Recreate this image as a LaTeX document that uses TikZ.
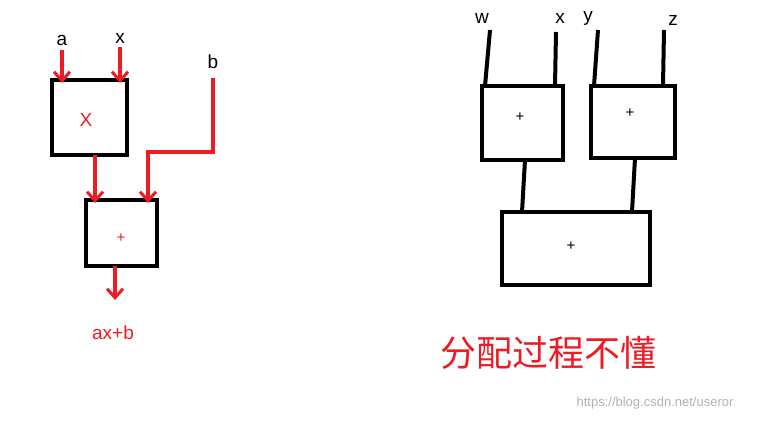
\documentclass[tikz,border=0pt]{standalone}
\usepackage{fontspec}
\setmainfont{Liberation Sans}
\newfontfamily\cjk{Noto Sans CJK SC}
\usetikzlibrary{arrows.meta}
\definecolor{rd}{RGB}{237,28,36}
\begin{document}
\begin{tikzpicture}[x=1pt,y=-1pt,
  blk/.style={draw=black,line width=3.5pt},
  rl/.style={draw=rd,line width=4pt},
  ra/.style={rl,-{Straight Barb[length=9pt,width=16pt,line width=3pt]}},
  bl/.style={draw=black,line width=4pt},
  lab/.style={font=\fontsize{19}{19}\selectfont},
  pl/.style={font=\fontsize{15}{15}\selectfont}]
\useasboundingbox (0,0) rectangle (763,422);
% left
\draw[blk] (52,80) rectangle (127,155);
\node[text=rd,lab] (X) at (86,120) {X};
\draw[blk] (86,200) rectangle (157,266);
\node[text=rd,pl] (p1) at (121,238) {+};
\node[lab] (a) at (62,40) {a};
\node[lab] (xx) at (120,38) {x};
\node[lab] (b) at (213,62) {b};
\coordinate (a1) at (62,50); \coordinate (a2) at (62,83);
\coordinate (x1) at (120,47); \coordinate (x2) at (120,83);
\draw[ra] (a1) -- (a2);
\draw[ra] (x1) -- (x2);
\coordinate (b1) at (213,78); \coordinate (b2) at (213,152); \coordinate (b3) at (148,152); \coordinate (b4) at (148,203);
\draw[ra] (b1) -- (b2) -- (b3) -- (b4);
\coordinate (m1) at (95,155); \coordinate (m2) at (95,203);
\draw[ra] (m1) -- (m2);
\coordinate (o1) at (115,266); \coordinate (o2) at (115,300);
\draw[ra] (o1) -- (o2);
\node[text=rd,lab] (res) at (113,333) {ax+b};
% right
\node[lab] (w) at (482,18) {w};
\node[lab] (x3) at (560,18) {x};
\node[lab] (y) at (588,18) {y};
\node[lab] (z) at (673,20) {z};
\draw[blk] (482,86) rectangle (563,160);
\draw[blk] (591,86) rectangle (675,158);
\draw[blk] (502,212) rectangle (650,285);
\node[pl] (q1) at (520,117) {+};
\node[pl] (q2) at (630,113) {+};
\node[pl] (q3) at (571,246) {+};
\coordinate (w1) at (490,30); \coordinate (w2) at (485,86);
\coordinate (x4) at (556,32); \coordinate (x5) at (555,86);
\coordinate (y1) at (598,30); \coordinate (y2) at (594,86);
\coordinate (z1) at (664,30); \coordinate (z2) at (663,86);
\coordinate (c1) at (525,160); \coordinate (c2) at (522,212);
\coordinate (d1) at (635,158); \coordinate (d2) at (632,212);
\draw[bl] (w1)--(w2); \draw[bl] (x4)--(x5); \draw[bl] (y1)--(y2); \draw[bl] (z1)--(z2);
\draw[bl] (c1)--(c2); \draw[bl] (d1)--(d2);
\node[text=rd,font=\cjk\fontsize{36}{36}\selectfont] (cn) at (548,353) {分配过程不懂};
\node[text=black!30,font=\fontsize{13}{13}\selectfont] (wm) at (655,403) {https://blog.csdn.net/useror};
\end{tikzpicture}
\end{document}
